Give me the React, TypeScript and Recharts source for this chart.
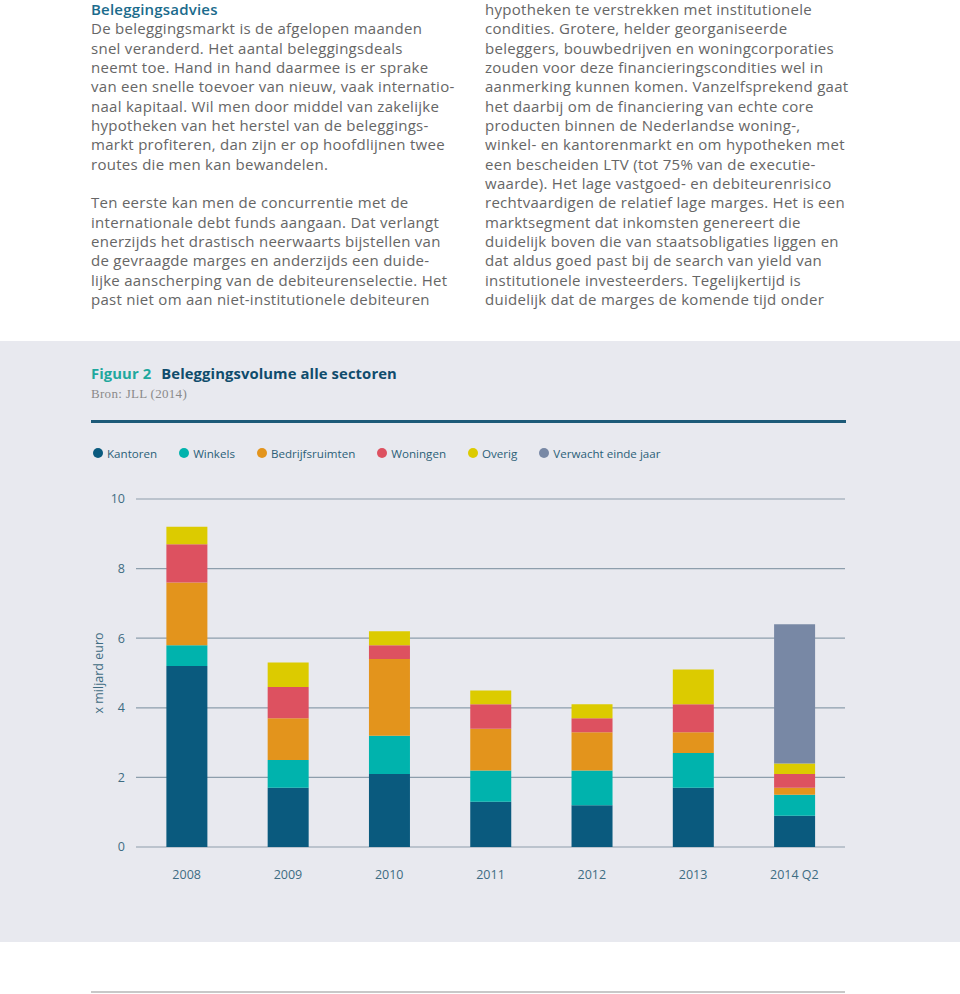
import React from 'react';
import { BarChart, Bar, XAxis, YAxis, CartesianGrid } from 'recharts';

const categories = ['2008', '2009', '2010', '2011', '2012', '2013', '2014 Q2'];
const kantoren = [5.2, 1.7, 2.1, 1.3, 1.2, 1.7, 0.9];
const winkels = [0.6, 0.8, 1.1, 0.9, 1.0, 1.0, 0.6];
const bedrijfsruimten = [1.8, 1.2, 2.2, 1.2, 1.1, 0.6, 0.2];
const woningen = [1.1, 0.9, 0.4, 0.7, 0.4, 0.8, 0.4];
const overig = [0.5, 0.7, 0.4, 0.4, 0.4, 1.0, 0.3];
const verwacht = [0, 0, 0, 0, 0, 0, 4.0];
const yTicks = [0, 2, 4, 6, 8, 10];

const series = [
  { key: 'kantoren', name: 'Kantoren', color: '#0a5a7e', values: kantoren },
  { key: 'winkels', name: 'Winkels', color: '#00b3ad', values: winkels },
  { key: 'bedrijfsruimten', name: 'Bedrijfsruimten', color: '#e3941c', values: bedrijfsruimten },
  { key: 'woningen', name: 'Woningen', color: '#dd5160', values: woningen },
  { key: 'overig', name: 'Overig', color: '#dccb00', values: overig },
  { key: 'verwacht', name: 'Verwacht einde jaar', color: '#7888a5', values: verwacht },
];

const data = categories.map((c, i) => {
  const row: any = { cat: c };
  series.forEach((s) => { row[s.key] = s.values[i]; });
  return row;
});

const leftHeading = 'Beleggingsadvies';
const leftLines = [
  'De beleggingsmarkt is de afgelopen maanden',
  'snel veranderd. Het aantal beleggingsdeals',
  'neemt toe. Hand in hand daarmee is er sprake',
  'van een snelle toevoer van nieuw, vaak internatio-',
  'naal kapitaal. Wil men door middel van zakelijke',
  'hypotheken van het herstel van de beleggings-',
  'markt profiteren, dan zijn er op hoofdlijnen twee',
  'routes die men kan bewandelen.',
  '',
  'Ten eerste kan men de concurrentie met de',
  'internationale debt funds aangaan. Dat verlangt',
  'enerzijds het drastisch neerwaarts bijstellen van',
  'de gevraagde marges en anderzijds een duide-',
  'lijke aanscherping van de debiteurenselectie. Het',
  'past niet om aan niet-institutionele debiteuren',
];
const rightLines = [
  'hypotheken te verstrekken met institutionele',
  'condities. Grotere, helder georganiseerde',
  'beleggers, bouwbedrijven en woningcorporaties',
  'zouden voor deze financieringscondities wel in',
  'aanmerking kunnen komen. Vanzelfsprekend gaat',
  'het daarbij om de financiering van echte core',
  'producten binnen de Nederlandse woning-,',
  'winkel- en kantorenmarkt en om hypotheken met',
  'een bescheiden LTV (tot 75% van de executie-',
  'waarde). Het lage vastgoed- en debiteurenrisico',
  'rechtvaardigen de relatief lage marges. Het is een',
  'marktsegment dat inkomsten genereert die',
  'duidelijk boven die van staatsobligaties liggen en',
  'dat aldus goed past bij de search van yield van',
  'institutionele investeerders. Tegelijkertijd is',
  'duidelijk dat de marges de komende tijd onder',
];

const FONT = '"Open Sans", "Noto Sans", sans-serif';
const LH = 19.33;

const lineStyle: React.CSSProperties = {
  height: LH,
  lineHeight: `${LH}px`,
  whiteSpace: 'nowrap',
};

const bodyStyle: React.CSSProperties = {
  position: 'absolute',
  top: 0,
  fontSize: 15,
  letterSpacing: 0.28,
  color: '#666666',
};

export default function App() {
  return (
    <div style={{ position: 'absolute', left: 0, top: 0, width: 960, height: 994, background: '#ffffff', fontFamily: FONT, overflow: 'hidden' }}>
      {/* article text */}
      <div style={{ ...bodyStyle, left: 91 }}>
        <div style={{ ...lineStyle, color: '#1b6b8c', fontWeight: 600, letterSpacing: 0.2 }}>{leftHeading}</div>
        {leftLines.map((l, i) => (
          <div key={i} style={lineStyle}>{l}</div>
        ))}
      </div>
      <div style={{ ...bodyStyle, left: 485 }}>
        {rightLines.map((l, i) => (
          <div key={i} style={lineStyle}>{l}</div>
        ))}
      </div>

      {/* grey panel */}
      <div style={{ position: 'absolute', left: 0, top: 341, width: 960, height: 601, background: '#e8e9ef' }} />

      <div style={{ position: 'absolute', left: 91, top: 362, fontSize: 14.8, fontWeight: 700, whiteSpace: 'nowrap', lineHeight: '22px', letterSpacing: 0.1 }}>
        <span style={{ color: '#1fa89e' }}>Figuur 2</span>
        <span style={{ color: '#0f4c6c', marginLeft: 10 }}>Beleggingsvolume alle sectoren</span>
      </div>
      <div style={{ position: 'absolute', left: 91, top: 386, fontSize: 13, letterSpacing: 0.3, color: '#8a8a8a', fontFamily: '"Liberation Serif", "DejaVu Serif", serif', lineHeight: '16px' }}>
        Bron: JLL (2014)
      </div>
      <div style={{ position: 'absolute', left: 91, top: 420, width: 755, height: 3, background: '#1d5a78' }} />

      {/* legend */}
      <div style={{ position: 'absolute', left: 93, top: 444, display: 'flex', alignItems: 'center', height: 18, fontSize: 11.6, color: '#2b5f78', whiteSpace: 'nowrap' }}>
        {series.map((s) => (
          <div key={s.key} style={{ display: 'flex', alignItems: 'center', marginRight: 22 }}>
            <span style={{ width: 10, height: 10, borderRadius: 5, background: s.color, display: 'inline-block', marginRight: 4 }} />
            <span>{s.name}</span>
          </div>
        ))}
      </div>

      {/* chart */}
      <div style={{ position: 'absolute', left: 0, top: 460 }}>
        <BarChart
          width={960}
          height={440}
          data={data}
          margin={{ top: 39, right: 115, bottom: 13, left: 80 }}
          barCategoryGap="30%"
        >
          <CartesianGrid horizontal vertical={false} stroke="#8d9eac" strokeWidth={1.2} />
          <XAxis
            dataKey="cat"
            height={40}
            axisLine={false}
            tickLine={false}
            tickSize={0}
            tickMargin={23}
            tick={{ fill: '#3e6c82', fontSize: 12.5, fontFamily: FONT }}
            interval={0}
          />
          <YAxis
            width={56}
            domain={[0, 10]}
            ticks={yTicks}
            axisLine={false}
            tickLine={false}
            tickSize={0}
            tickMargin={11}
            tick={{ fill: '#3e6c82', fontSize: 12.5, fontFamily: FONT }}
            label={{
              content: (p: any) => {
                const vb = p.viewBox || { x: 80, y: 39, width: 56, height: 348 };
                const cx = vb.x + 18;
                const cy = vb.y + vb.height / 2;
                return (
                  <text
                    x={cx}
                    y={cy}
                    transform={`rotate(-90 ${cx} ${cy})`}
                    textAnchor="middle"
                    dominantBaseline="central"
                    fill="#3e6c82"
                    fontSize={12.5}
                    fontFamily={FONT}
                  >
                    x miljard euro
                  </text>
                );
              },
            }}
          />
          {series.map((s) => (
            <Bar key={s.key} dataKey={s.key} name={s.name} stackId="a" fill={s.color} isAnimationActive={false} />
          ))}
        </BarChart>
      </div>

      {/* bottom rule */}
      <div style={{ position: 'absolute', left: 91, top: 991, width: 754, height: 2, background: '#c8c8c8' }} />
    </div>
  );
}
